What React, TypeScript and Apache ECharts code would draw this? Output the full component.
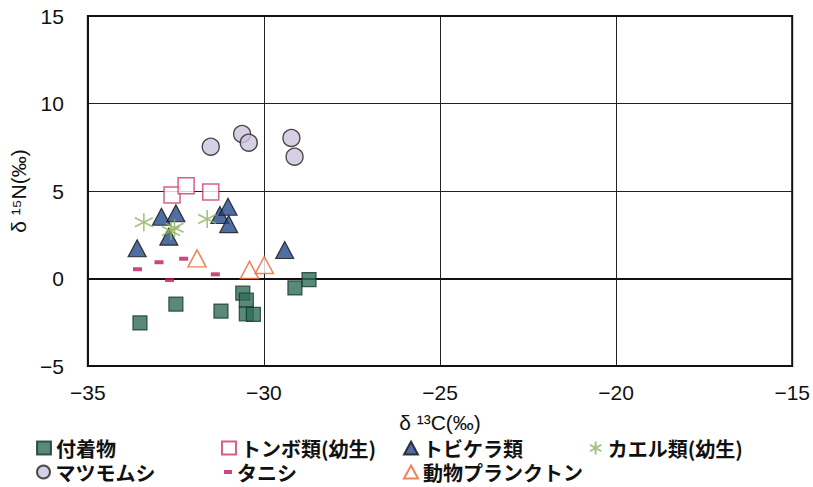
import React, { useEffect, useRef } from 'react';
import * as echarts from 'echarts';

const seriesNames = ['付着物', 'トンボ類(幼生)', 'トビケラ類', 'カエル類(幼生)', 'マツモムシ', 'タニシ', '動物プランクトン'];

const periphyton = [
  [-33.52, -2.54], [-32.5, -1.46], [-31.22, -1.86], [-30.6, -0.84], [-30.5, -1.23],
  [-30.5, -2.03], [-30.3, -2.05], [-29.12, -0.54], [-28.72, -0.06],
];
const dragonfly = [[-32.61, 4.77], [-32.21, 5.3], [-31.51, 4.94]];
const caddisfly = [
  [-33.6, 1.73], [-32.91, 3.53], [-32.5, 3.73], [-32.7, 2.39], [-31.25, 3.63],
  [-31.02, 4.1], [-31.0, 3.11], [-29.41, 1.63],
];
const frog = [[-33.41, 3.21], [-32.64, 2.71], [-32.54, 2.9], [-31.61, 3.4]];
const backswimmer = [[-31.51, 7.53], [-30.62, 8.26], [-30.43, 7.76], [-29.22, 8.03], [-29.13, 6.96]];
const snail = [[-33.59, 0.53], [-32.98, 0.93], [-32.68, -0.09], [-32.28, 1.13], [-31.38, 0.24]];
const zooplankton = [[-31.9, 1.15], [-30.41, 0.49], [-29.99, 0.77]];

const xMin = -35, xMax = -15, xStep = 5;
const yMin = -5, yMax = 15, yStep = 5;
const xTitle = 'δ ¹³C(‰)';
const yTitle = 'δ ¹⁵N(‰)';

const asterisk = 'path://M10 0 L10 20 M1.34 5 L18.66 15 M1.34 15 L18.66 5';

const legendPos = [
  { left: 36, top: 437 }, { left: 221, top: 437 }, { left: 403, top: 437 }, { left: 589, top: 437 },
  { left: 36, top: 461 }, { left: 224, top: 461 }, { left: 403, top: 461 },
];

export default function App() {
  const ref = useRef<HTMLDivElement>(null);
  useEffect(() => {
    const chart = echarts.init(ref.current!, undefined, { renderer: 'svg' });
    const minus = (v: number) => String(v).replace('-', '−');
    const numFont = 'Liberation Sans Narrow, Liberation Sans, Arial, sans-serif';
    const axisFont = { fontFamily: numFont, fontSize: 21, color: '#111' };
    const nameFont = { fontFamily: 'Liberation Sans, Arial, sans-serif', fontSize: 21, color: '#111' };
    const base = { type: 'scatter', z: 3 };
    const series: any[] = [
      { ...base, name: seriesNames[0], data: periphyton, symbol: 'rect', symbolSize: 14,
        itemStyle: { color: '#2f6d58', borderColor: '#15352b', borderWidth: 1.2 } },
      { ...base, name: seriesNames[1], data: dragonfly, symbol: 'rect', symbolSize: 16,
        itemStyle: { color: '#ffffff', borderColor: '#d2356f', borderWidth: 1.5 } },
      { ...base, name: seriesNames[2], data: caddisfly, symbol: 'triangle', symbolSize: [18, 17],
        itemStyle: { color: '#264a8c', borderColor: '#111', borderWidth: 1.2 } },
      { ...base, name: seriesNames[3], data: frog, symbol: asterisk, symbolSize: 18,
        itemStyle: { color: 'rgba(0,0,0,0)', borderColor: '#8db35a', borderWidth: 1.6 } },
      { ...base, name: seriesNames[4], data: backswimmer, symbol: 'circle', symbolSize: 17,
        itemStyle: { color: '#cdc4dd', borderColor: '#222', borderWidth: 1.4 } },
      { ...base, name: seriesNames[5], data: snail, symbol: 'rect', symbolSize: [9, 4],
        itemStyle: { color: '#c2185b' } },
      { ...base, name: seriesNames[6], data: zooplankton, symbol: 'triangle', symbolSize: [18, 17],
        itemStyle: { color: '#ffffff', borderColor: '#e8642c', borderWidth: 1.5 } },
    ];
    const legends = seriesNames.map((n, i) => ({
      data: [n],
      left: legendPos[i].left,
      top: legendPos[i].top,
      orient: 'horizontal',
      itemWidth: i === 5 ? 8 : 14,
      itemHeight: i === 5 ? 4 : 13,
      itemGap: 4,
      padding: 0,
      selectedMode: false,
      textStyle: { fontFamily: 'Noto Sans CJK JP, sans-serif', fontSize: 20, lineHeight: 22, fontWeight: 'bold', color: '#111' },
    }));
    chart.setOption({
      animation: false,
      backgroundColor: '#ffffff',
      grid: { left: 84, right: 15, top: 16, bottom: 121, show: true, borderColor: '#111', borderWidth: 2, z: 2 },
      legend: legends,
      xAxis: {
        type: 'value', min: xMin, max: xMax, interval: xStep,
        axisLine: { show: true, lineStyle: { color: '#111', width: 2 } },
        axisTick: { show: false },
        splitLine: { show: true, lineStyle: { color: '#222', width: 1 } },
        axisLabel: { ...axisFont, margin: 16, formatter: minus },
        name: xTitle,
        nameLocation: 'middle', nameGap: 46,
        nameTextStyle: nameFont,
      },
      yAxis: {
        type: 'value', min: yMin, max: yMax, interval: yStep,
        axisLine: { show: true, lineStyle: { color: '#111', width: 2 } },
        axisTick: { show: false },
        splitLine: { show: true, lineStyle: { color: '#222', width: 1 } },
        axisLabel: { ...axisFont, margin: 24, formatter: minus },
        name: yTitle,
        nameLocation: 'middle', nameGap: 45, nameRotate: 90,
        nameTextStyle: nameFont,
      },
      series,
    });
    return () => chart.dispose();
  }, []);
  return <div ref={ref} style={{ width: 813, height: 487, position: 'absolute', left: 0, top: 0 }} />;
}
